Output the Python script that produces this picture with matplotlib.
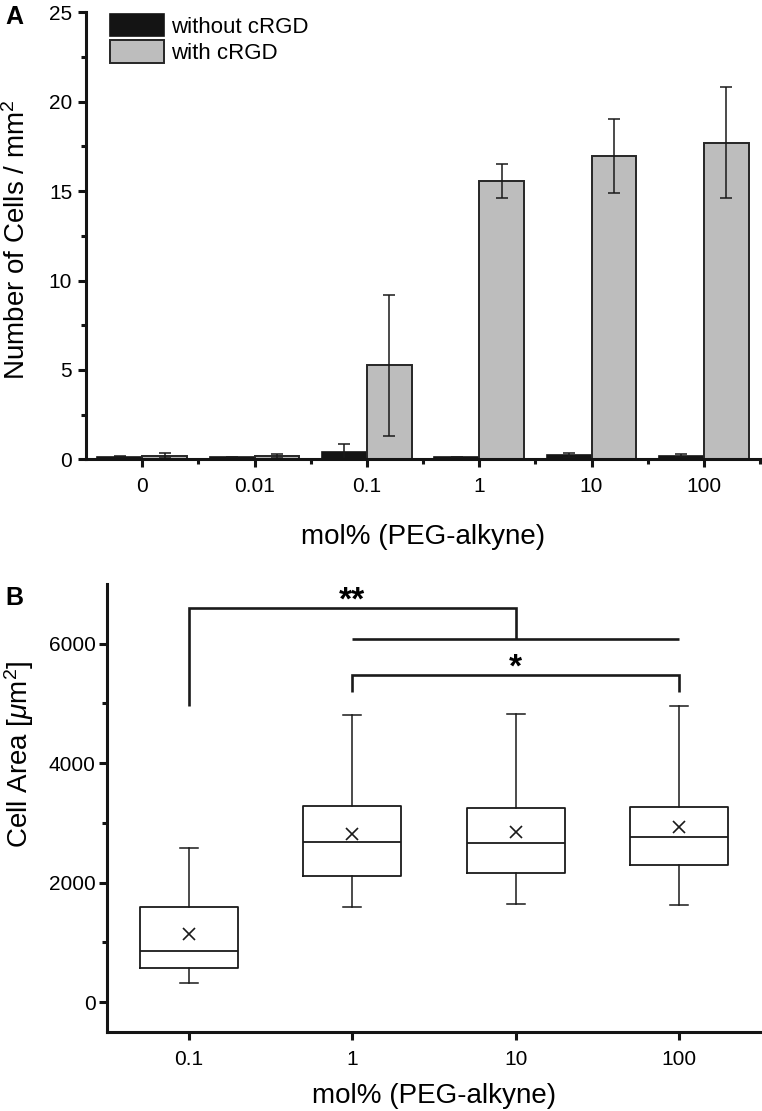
import numpy as np
import matplotlib
matplotlib.use("Agg")
import matplotlib.pyplot as plt
from matplotlib.patches import Patch

plt.rcParams['font.family'] = ['Liberation Sans', 'DejaVu Sans']
plt.rcParams['mathtext.fontset'] = 'custom'
plt.rcParams['mathtext.rm'] = 'Liberation Sans'
plt.rcParams['mathtext.it'] = 'Liberation Sans:italic'

# ---------------- Panel A data ----------------
conc_a = ['0', '0.01', '0.1', '1', '10', '100']
without_crgd = [0.15, 0.10, 0.43, 0.10, 0.22, 0.20]
without_err = [0.05, 0.05, 0.43, 0.05, 0.15, 0.10]
with_crgd = [0.20, 0.20, 5.25, 15.58, 16.97, 17.71]
with_err = [0.15, 0.12, 3.95, 0.95, 2.05, 3.10]

# ---------------- Panel B data ----------------
conc_b = ['0.1', '1', '10', '100']
whislo = [325, 1586, 1636, 1624]
q1 = [565, 2115, 2166, 2294]
med = [850, 2674, 2657, 2758]
q3 = [1600, 3277, 3254, 3260]
whishi = [2578, 4811, 4822, 4956]
means = [1140, 2808, 2841, 2925]

# significance brackets (x index, y value)
bracket_far_x = [0, 0, 2, 2]
bracket_far_y = [4960, 6600, 6600, 6083]
bracket_far_base_x = [1, 3]
bracket_far_base_y = [6083, 6083]
bracket_near_x = [1, 1, 3, 3]
bracket_near_y = [5186, 5475, 5475, 5186]

fig = plt.figure(figsize=(7.62, 11.11), dpi=100)
axA = fig.add_axes([0.1129, 0.5866, 0.8845, 0.4023])
axB = fig.add_axes([0.1404, 0.0712, 0.8583, 0.4031])

spine_lw = 2.2
tick_fs = 15
label_fs = 20

# ---------------- Panel A ----------------
x = np.arange(len(conc_a))
ekw = dict(elinewidth=1.1, capthick=1.1, ecolor='#1a1a1a')
axA.bar(x - 0.2, without_crgd, width=0.4, color='#141414', edgecolor='#141414',
        linewidth=1.2, yerr=without_err, capsize=4.5, error_kw=ekw,
        label='without cRGD', zorder=2)
axA.bar(x + 0.2, with_crgd, width=0.4, color='#bdbdbd', edgecolor='#262626',
        linewidth=1.4, yerr=with_err, capsize=4.5, error_kw=ekw,
        label='with cRGD', zorder=2)
axA.set_xlim(-0.5, len(conc_a) - 0.5)
axA.set_ylim(0, 25)
axA.set_xticks(x)
axA.set_xticklabels(conc_a)
axA.set_xticks(np.arange(0.5, len(conc_a), 1), minor=True)
axA.set_yticks(np.arange(0, 26, 5))
axA.set_yticks(np.arange(2.5, 25, 5), minor=True)
axA.set_ylabel('Number of Cells / mm$^2$', fontsize=label_fs)
axA.set_xlabel('mol% (PEG-alkyne)', fontsize=label_fs, labelpad=20)
axA.yaxis.set_label_coords(-0.082, 0.49)

handles = [Patch(facecolor='#141414', edgecolor='#141414', linewidth=1.2),
           Patch(facecolor='#bdbdbd', edgecolor='#262626', linewidth=1.4)]
axA.legend(handles, ['without cRGD', 'with cRGD'], loc='upper left',
           bbox_to_anchor=(0.036, 0.997), frameon=False, fontsize=16,
           handlelength=2.4, handleheight=1.2, labelspacing=0.12,
           handletextpad=0.35, borderpad=0, borderaxespad=0)

# ---------------- Panel B ----------------
stats = []
for i in range(len(conc_b)):
    stats.append(dict(label=conc_b[i], whislo=whislo[i], q1=q1[i], med=med[i],
                      q3=q3[i], whishi=whishi[i], mean=means[i], fliers=[]))
axB.bxp(stats, positions=np.arange(len(conc_b)), widths=0.6, capwidths=0.11,
        showmeans=True, showfliers=False,
        boxprops=dict(color='#1a1a1a', linewidth=1.3),
        whiskerprops=dict(color='#1a1a1a', linewidth=1.1),
        capprops=dict(color='#1a1a1a', linewidth=1.1),
        medianprops=dict(color='#1a1a1a', linewidth=1.3),
        meanprops=dict(marker='x', markeredgecolor='#1a1a1a', markersize=8,
                       markeredgewidth=1.2, linestyle='none'))
br_lw = 1.9
axB.plot(bracket_far_x, bracket_far_y, color='#1a1a1a', lw=br_lw,
         solid_joinstyle='miter', solid_capstyle='butt')
axB.plot(bracket_far_base_x, bracket_far_base_y, color='#1a1a1a', lw=br_lw,
         solid_capstyle='butt')
axB.plot(bracket_near_x, bracket_near_y, color='#1a1a1a', lw=br_lw,
         solid_joinstyle='miter', solid_capstyle='butt')
axB.text(1, 6720, '**', ha='center', va='center', fontsize=24, fontweight='bold')
axB.text(2, 5590, '*', ha='center', va='center', fontsize=24, fontweight='bold')

axB.set_xlim(-0.5, len(conc_b) - 0.5)
axB.set_ylim(-500, 7000)
axB.set_xticks(np.arange(len(conc_b)))
axB.set_xticklabels(conc_b)
axB.set_yticks([0, 2000, 4000, 6000])
axB.set_yticks([1000, 3000, 5000], minor=True)
axB.set_ylabel('Cell Area [$\\mu$m$^2$]', fontsize=label_fs)
axB.set_xlabel('mol% (PEG-alkyne)', fontsize=label_fs, labelpad=10)
axB.yaxis.set_label_coords(-0.108, 0.62)

for ax in (axA, axB):
    for s in ('top', 'right'):
        ax.spines[s].set_visible(False)
    for s in ('left', 'bottom'):
        ax.spines[s].set_linewidth(spine_lw)
        ax.spines[s].set_color('#141414')
    ax.tick_params(which='major', direction='out', length=6, width=spine_lw,
                   labelsize=tick_fs, color='#141414', pad=4)
    ax.tick_params(which='minor', direction='out', length=3.5, width=spine_lw,
                   color='#141414')
axA.tick_params(axis='x', which='major', pad=7)
axB.tick_params(axis='x', which='major', pad=7)
axB.tick_params(axis='y', which='major', pad=2)

fig.text(14 / 762, 1 - 17 / 1111, 'A', fontsize=18, fontweight='bold',
         ha='center', va='center')
fig.text(14 / 762, 1 - 598 / 1111, 'B', fontsize=18, fontweight='bold',
         ha='center', va='center')

fig.savefig('out.png', dpi=100)
